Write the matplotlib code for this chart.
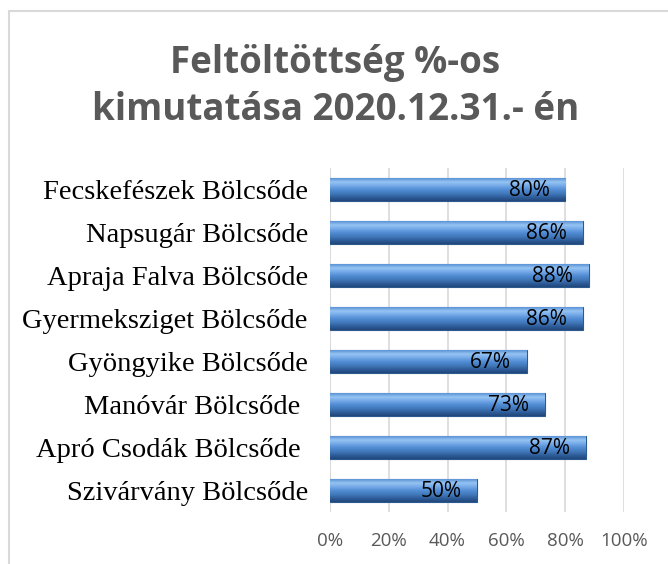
import matplotlib.pyplot as plt
import numpy as np
from matplotlib.patches import Rectangle
from matplotlib.colors import LinearSegmentedColormap

categories = [
    'Fecskefészek Bölcsőde',
    'Napsugár Bölcsőde',
    'Apraja Falva Bölcsőde',
    'Gyermeksziget Bölcsőde',
    'Gyöngyike Bölcsőde',
    'Manóvár Bölcsőde ',
    'Apró Csodák Bölcsőde ',
    'Szivárvány Bölcsőde',
]
values = [80, 86, 88, 86, 67, 73, 87, 50]
xticks = [0, 20, 40, 60, 80, 100]
title = 'Feltöltöttség %-os\nkimutatása 2020.12.31.- én'

GREY = '#595959'

fig = plt.figure(figsize=(6.68, 5.64), dpi=100)
ax = fig.add_axes([0.494, 0.092, 0.44, 0.61])

# frame around the chart (only left and top edges are inside the image)
fig.patches.append(Rectangle((0.0135, -0.05), 1.05, 1.031, transform=fig.transFigure,
                             fill=False, edgecolor='#d9d9d9', linewidth=1.5))

y = np.arange(len(categories))
bars = ax.barh(y, values, height=0.52, color='#4a7ebb', edgecolor='#2c5a8f',
               linewidth=0.8, zorder=3)

# cylinder-like shading, top to bottom
shade = LinearSegmentedColormap.from_list(
    'shade', ['#5a92d6', '#97c5f3', '#74a9e8', '#528dd4', '#427abd', '#305f9c', '#20477a'])
grad = np.linspace(0, 1, 64).reshape(-1, 1)
for b in bars:
    x0, y0, w, h = b.get_x(), b.get_y(), b.get_width(), b.get_height()
    im = ax.imshow(grad, cmap=shade, aspect='auto', extent=(x0, x0 + w, y0 + h, y0),
                   zorder=3.5, interpolation='bicubic')
    im.set_clip_path(b)
    ax.text(x0 + w - 5.3, y0 + h / 2 + 0.03, f'{w:.0f}%', ha='right', va='center',
            fontsize=15, family='Open Sans', color='black', zorder=5)

ax.set_xlim(0, 100)
ax.set_ylim(len(categories) - 0.5, -0.5)
ax.set_xticks(xticks)
ax.set_xticklabels([f'{t}%' for t in xticks], family='Open Sans', fontsize=13.5, color=GREY)
ax.set_yticks(y)
ax.set_yticklabels(categories, family='Liberation Serif', fontsize=20.5, color='black')
ax.tick_params(length=0, pad=16)
ax.tick_params(axis='x', pad=14)
ax.grid(axis='x', color='#d9d9d9', linewidth=1.2, zorder=0)
for s in ax.spines.values():
    s.set_visible(False)
ax.axvline(0, color='#d9d9d9', linewidth=1.2, zorder=1)

fig.text(0.502, 0.847, title, ha='center', va='center', fontsize=26.5, fontweight='bold',
         family='Open Sans', color=GREY, linespacing=1.32)

fig.savefig('out.png', dpi=100)
